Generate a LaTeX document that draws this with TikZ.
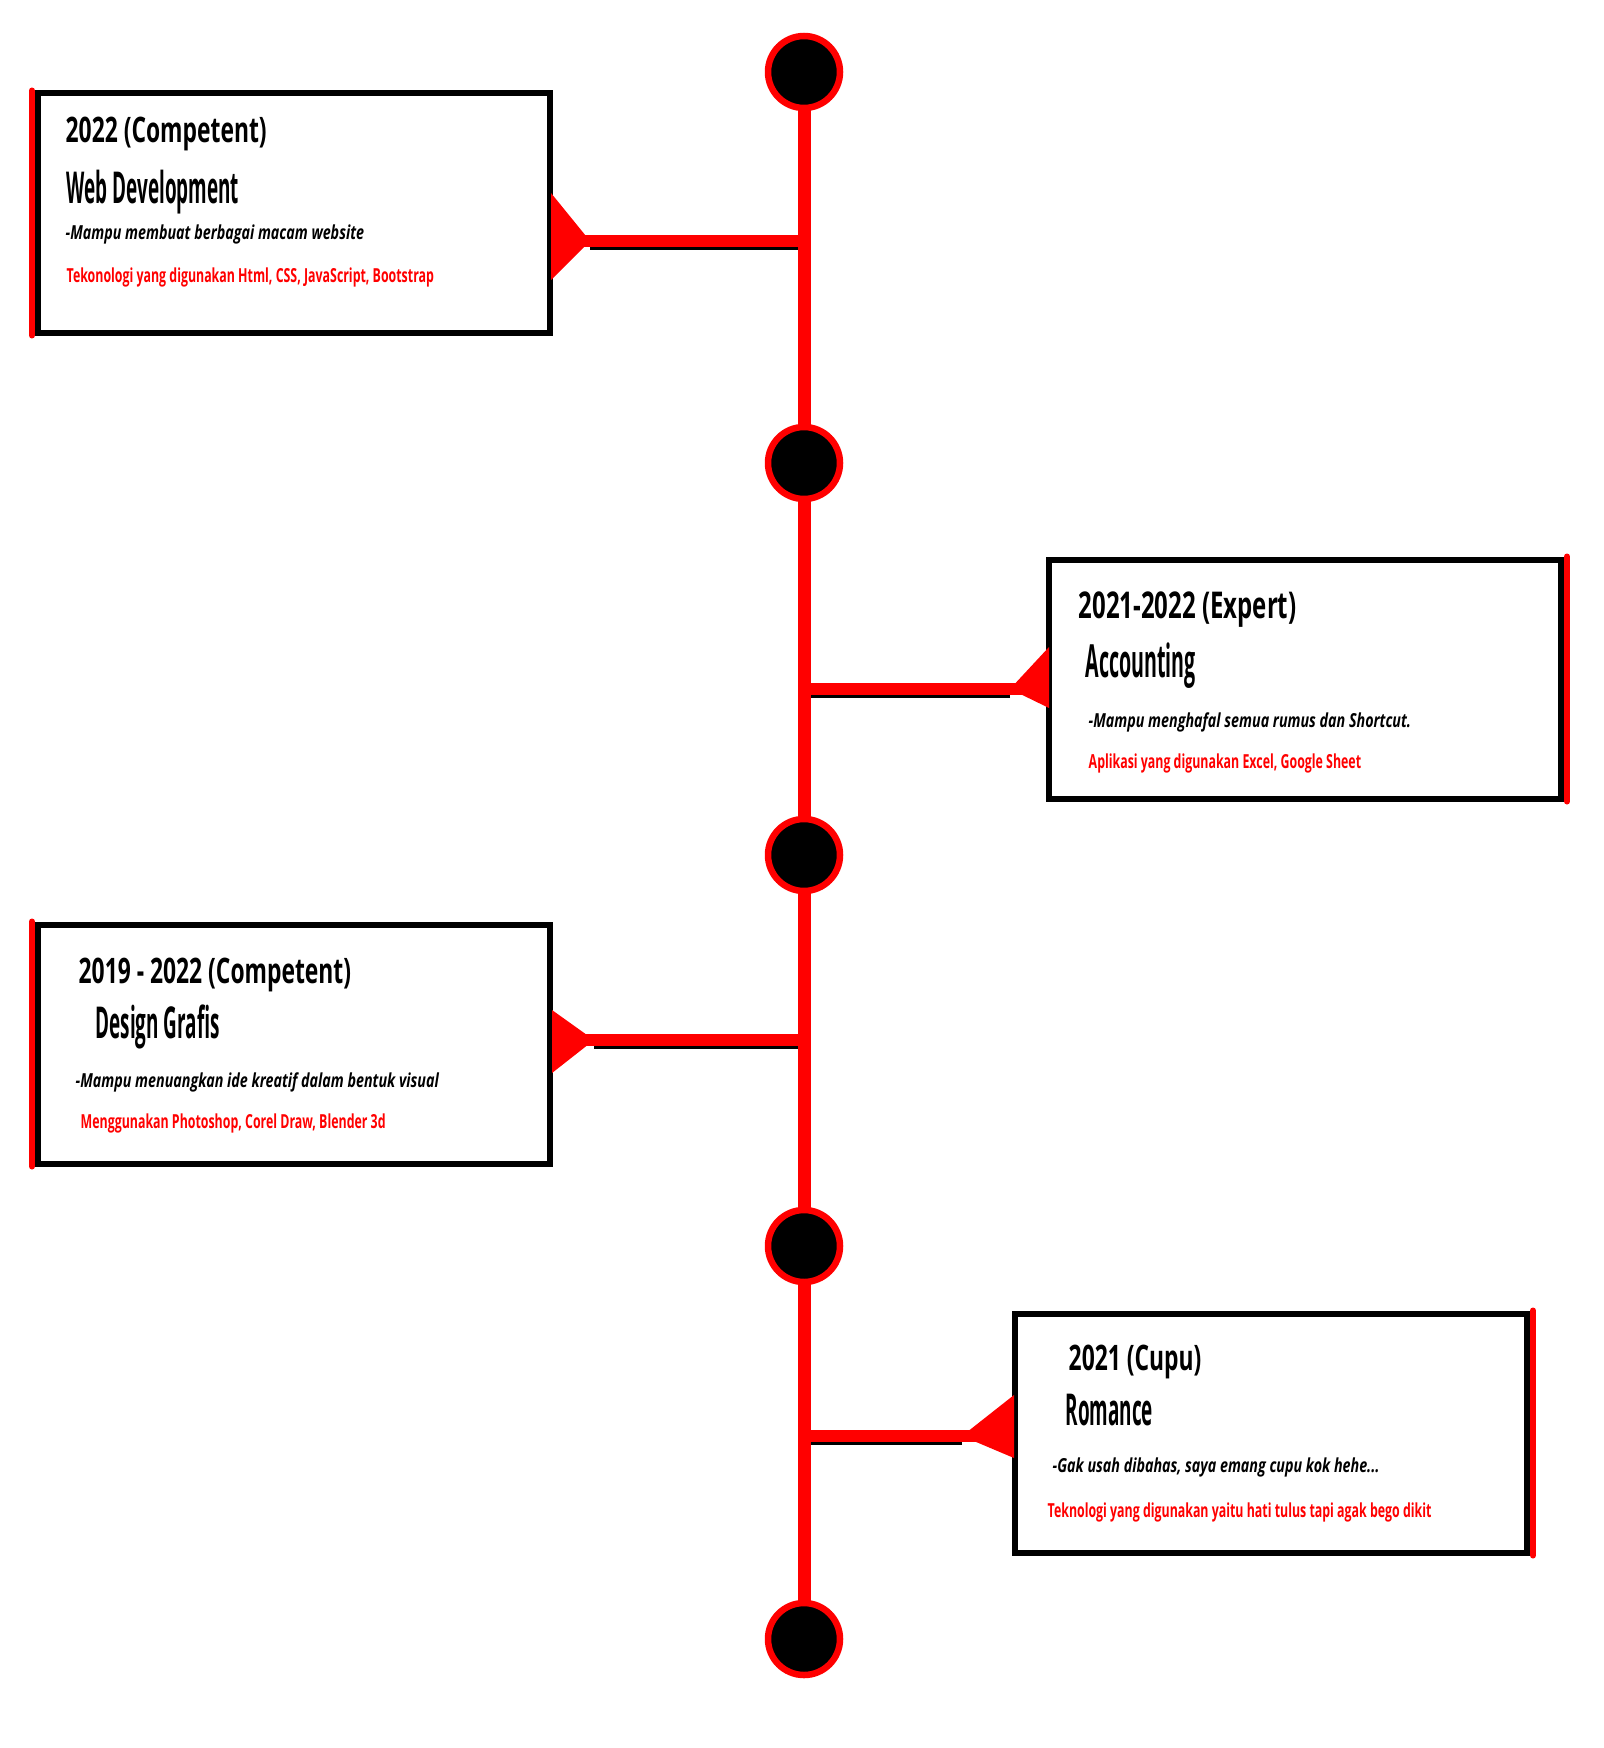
\documentclass[tikz,border=0pt]{standalone}
\usepackage{fontspec}
\setmainfont{Open Sans}
\newfontfamily\headfont[FakeStretch=0.65]{Open Sans}
\newfontfamily\subfont[FakeStretch=0.43]{Open Sans}
\newfontfamily\notefont[FakeStretch=0.74]{Open Sans}
\newfontfamily\techfont[FakeStretch=0.64]{Open Sans}

\tikzset{
    card/.style={draw=black, line width=0.6mm, fill=white, minimum width=51.2mm, minimum height=23.9mm, inner sep=0pt},
    dot/.style={circle, draw=red, fill=black, line width=0.65mm, minimum size=7.2mm, inner sep=0pt},
    stripe/.style={red, line width=0.6mm, line cap=round},
    bar/.style={red, line width=1.2mm},
    under/.style={black, line width=0.35mm},
    txt/.style={anchor=base west, inner sep=0pt},
    head/.style={txt, font=\headfont\bfseries\fontsize{10}{12}\selectfont},
    sub/.style={txt, font=\subfont\bfseries\fontsize{12.5}{14}\selectfont},
    note/.style={txt, font=\notefont\bfseries\itshape\fontsize{5.5}{7}\selectfont},
    tech/.style={txt, text=red, font=\techfont\bfseries\fontsize{5.5}{7}\selectfont}
}

\begin{document}
\begin{tikzpicture}[x=0.1mm, y=-0.1mm]
        \useasboundingbox (0,0) rectangle (1604,1748);
        \fill[white] (0,0) rectangle (1604,1748);

        \coordinate (c1) at (804,72);
        \coordinate (c5) at (804,1639);

        % cards
        \node[card] (b1) at (294,213) {};
        \node[card] (b2) at (1305,679) {};
        \node[card] (b3) at (294,1044) {};
        \node[card] (b4) at (1271,1433) {};

        \draw[stripe] ([xshift=-0.3mm]b1.north west) -- ([xshift=-0.3mm]b1.south west);
        \draw[stripe] ([xshift=0.3mm]b2.north east) -- ([xshift=0.3mm]b2.south east);
        \draw[stripe] ([xshift=-0.3mm]b3.north west) -- ([xshift=-0.3mm]b3.south west);
        \draw[stripe] ([xshift=0.3mm]b4.north east) -- ([xshift=0.3mm]b4.south east);

        % pointers
        \coordinate (k1) at (590,241);
        \coordinate (k2) at (1010,689);
        \coordinate (k3) at (594,1040);
        \coordinate (k4) at (962,1436);

        \fill[red] (k1) -- (551,193) -- (551,280) -- cycle;
        \fill[red] (k2) -- (1049,647) -- (1049,708) -- cycle;
        \fill[red] (k3) -- (552,1010) -- (552,1073) -- cycle;
        \fill[red] (k4) -- (1014,1395) -- (1014,1458) -- cycle;

        \draw[bar] ([xshift=-2mm]k1) -- (k1 -| c1);
        \draw[bar] ([xshift=2mm]k2) -- (k2 -| c1);
        \draw[bar] ([xshift=-2mm]k3) -- (k3 -| c1);
        \draw[bar] ([xshift=2mm]k4) -- (k4 -| c1);
        \draw[under] ([yshift=-0.75mm]k1) -- ([yshift=-0.75mm]k1 -| c1);
        \draw[under] ([yshift=-0.75mm]k2) -- ([yshift=-0.75mm]k2 -| c1);
        \draw[under] ([yshift=-0.75mm]k3) -- ([yshift=-0.75mm]k3 -| c1);
        \draw[under] ([yshift=-0.75mm]k4) -- ([yshift=-0.75mm]k4 -| c1);

        % timeline
        \draw[red, line width=1.3mm] (c1) -- (c5);
        \node[dot] (d1) at (c1) {};
        \node[dot] (d2) at (804,463) {};
        \node[dot] (d3) at (804,855) {};
        \node[dot] (d4) at (804,1246) {};
        \node[dot] (d5) at (c5) {};

        % texts
        \node[head] (y1) at (65,143) {2022 (Competent)};
        \node[sub] (s1) at (66,203) {Web Development};
        \node[note] (n1) at (65,240) {-Mampu membuat berbagai macam website};
        \node[tech] (t1) at (66,282) {Tekonologi yang digunakan Html, CSS, JavaScript, Bootstrap};

        \node[head, font=\headfont\bfseries\fontsize{10.5}{13}\selectfont] (y2) at (1078,618) {2021-2022 (Expert)};
        \node[sub, font=\subfont\bfseries\fontsize{13}{15}\selectfont] (s2) at (1085,677) {Accounting};
        \node[note] (n2) at (1088,727) {-Mampu menghafal semua rumus dan Shortcut.};
        \node[tech] (t2) at (1088,768) {Aplikasi yang digunakan Excel, Google Sheet};

        \node[head] (y3) at (78,983) {2019 - 2022 (Competent)};
        \node[sub] (s3) at (95,1038) {Design Grafis};
        \node[note] (n3) at (75,1087) {-Mampu menuangkan ide kreatif dalam bentuk visual};
        \node[tech] (t3) at (80,1128) {Menggunakan Photoshop, Corel Draw, Blender 3d};

        \node[head] (y4) at (1068,1370) {2021 (Cupu)};
        \node[sub] (s4) at (1065,1425) {Romance};
        \node[note] (n4) at (1052,1472) {-Gak usah dibahas, saya emang cupu kok hehe...};
        \node[tech] (t4) at (1047,1517) {Teknologi yang digunakan yaitu hati tulus tapi agak bego dikit};
    \end{tikzpicture}
\end{document}
